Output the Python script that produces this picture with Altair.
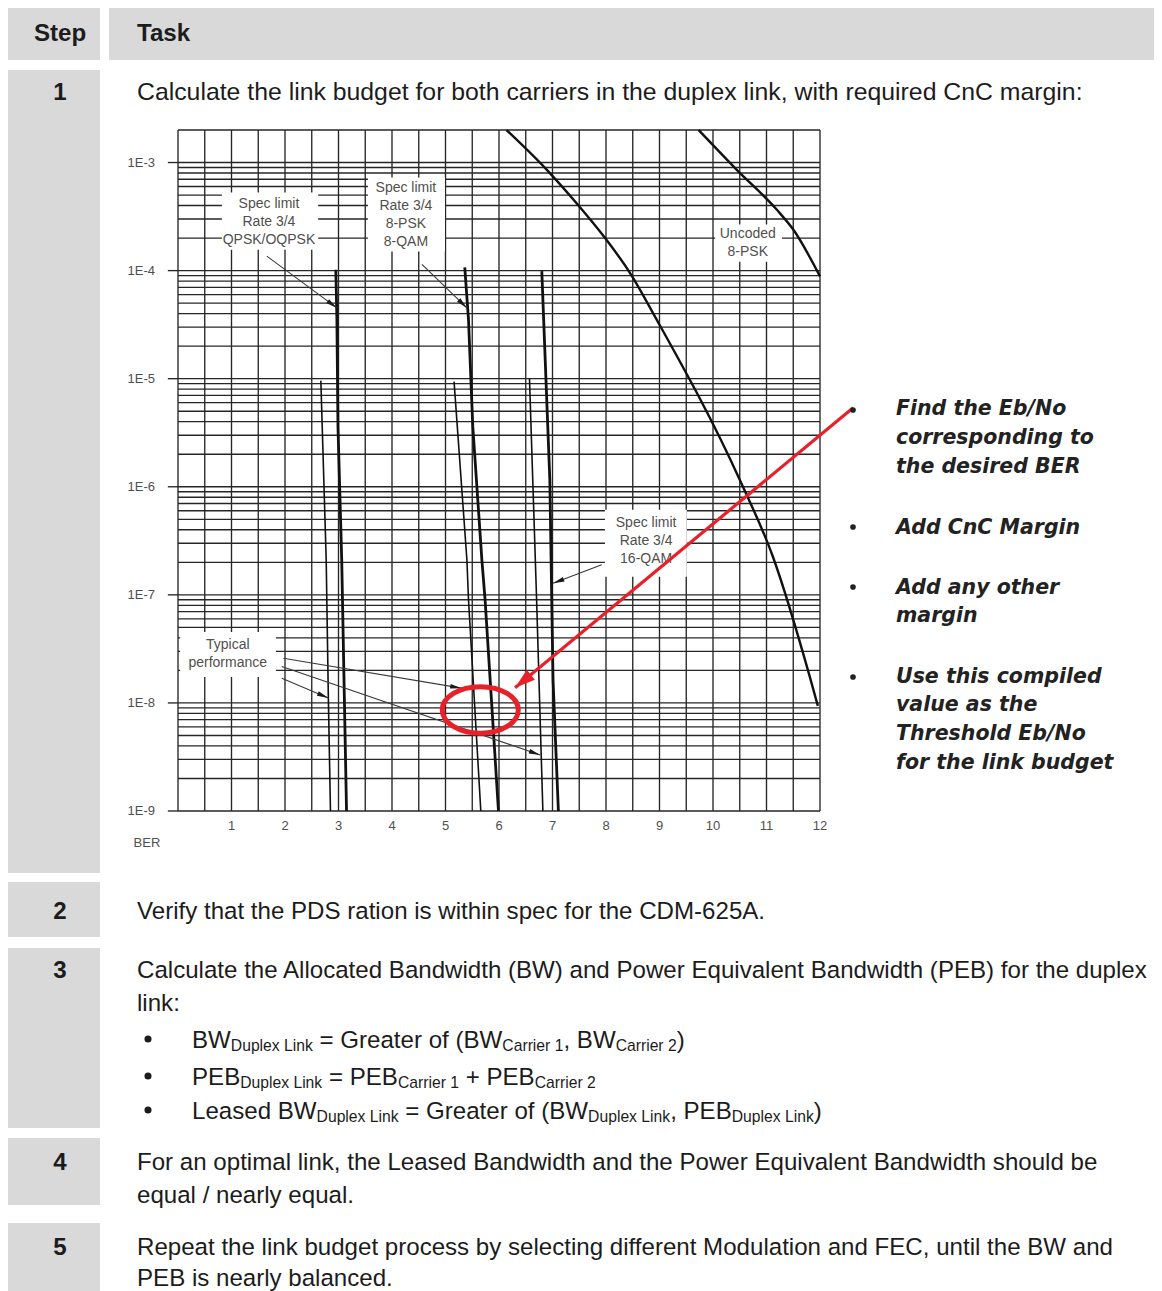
import math
import altair as alt
import pandas as pd

# ------------------------------------------------------------------ table text
header_labels = ["Step", "Task"]
steps = ["1", "2", "3", "4", "5"]
task_lines = [
    "Calculate the link budget for both carriers in the duplex link, with required CnC margin:",
    "Verify that the PDS ration is within spec for the CDM-625A.",
    "Calculate the Allocated Bandwidth (BW) and Power Equivalent Bandwidth (PEB) for the duplex",
    "link:",
    "For an optimal link, the Leased Bandwidth and the Power Equivalent Bandwidth should be",
    "equal / nearly equal.",
    "Repeat the link budget process by selecting different Modulation and FEC, until the BW and",
    "PEB is nearly balanced.",
]
# (text, is_subscript)
formula_lines = [
    [("BW", 0), ("Duplex Link", 1), (" = Greater of (BW", 0), ("Carrier 1", 1), (", BW", 0), ("Carrier 2", 1), (")", 0)],
    [("PEB", 0), ("Duplex Link", 1), (" = PEB", 0), ("Carrier 1", 1), (" + PEB", 0), ("Carrier 2", 1)],
    [("Leased BW", 0), ("Duplex Link", 1), (" = Greater of (BW", 0), ("Duplex Link", 1), (", PEB", 0), ("Duplex Link", 1), (")", 0)],
]
side_notes = [
    ["Find the Eb/No", "corresponding to", "the desired BER"],
    ["Add CnC Margin"],
    ["Add any other", "margin"],
    ["Use this compiled", "value as the", "Threshold Eb/No", "for the link budget"],
]

# ------------------------------------------------------------------ BER chart values
ebno_ticks = [1, 2, 3, 4, 5, 6, 7, 8, 9, 10, 11, 12]
ber_ticks = [1e-3, 1e-4, 1e-5, 1e-6, 1e-7, 1e-8, 1e-9]
ber_tick_labels = ["1E-3", "1E-4", "1E-5", "1E-6", "1E-7", "1E-8", "1E-9"]
ebno_grid = [0, 0.5, 1, 1.5, 2, 2.5, 3, 3.5, 4, 4.5, 5, 5.5, 6, 6.5, 7, 7.5, 8, 8.5,
             9, 9.5, 10, 10.5, 11, 11.5, 12]
ber_grid_mantissas = [1, 2, 3, 4, 5, 6, 7, 8, 9]
ber_grid_decades = [-9, -8, -7, -6, -5, -4]
ber_grid_top = [1e-3, 2e-3]

# curves (Eb/No dB, BER)
unc_a_ebno = [6.14, 6.89, 7.45, 7.95, 8.45, 8.95, 10.50, 11.12, 11.81, 11.96]
unc_a_ber = [2.0e-3, 8.6e-4, 4.2e-4, 2.1e-4, 9.5e-5, 3.5e-5, 1.16e-6, 2.25e-7, 1.74e-8, 9.4e-9]
unc_b_ebno = [9.73, 10.44, 11.19, 11.50, 12.0]
unc_b_ber = [2.0e-3, 8.6e-4, 3.67e-4, 2.40e-4, 8.85e-5]
qpsk_spec_ebno = [2.95, 2.97, 2.99, 3.06, 3.15]
qpsk_spec_ber = [1.02e-4, 3.52e-5, 3.60e-6, 2.11e-7, 1.0e-9]
qpsk_typ_ebno = [2.67, 2.77, 2.81, 2.85]
qpsk_typ_ber = [9.6e-6, 2.11e-7, 1.14e-8, 1.0e-9]
psk8_spec_ebno = [5.36, 5.43, 5.51, 5.68, 5.74, 5.99]
psk8_spec_ber = [1.07e-4, 3.52e-5, 3.60e-6, 2.11e-7, 9.0e-8, 1.0e-9]
psk8_typ_ebno = [5.16, 5.40, 5.43, 5.66]
psk8_typ_ber = [9.4e-6, 2.11e-7, 9.0e-8, 1.0e-9]
qam16_spec_ebno = [6.80, 6.95, 7.01, 7.11]
qam16_spec_ber = [9.9e-5, 1.16e-6, 1.63e-8, 1.0e-9]
qam16_typ_ebno = [6.57, 6.70, 6.82]
qam16_typ_ber = [1.0e-5, 1.0e-7, 1.0e-9]

# annotation labels (Eb/No of the centre, BER of the first text line)
label_texts = ["Spec limit\nRate 3/4\nQPSK/OQPSK", "Spec limit\nRate 3/4\n8-PSK\n8-QAM",
               "Uncoded\n8-PSK", "Spec limit\nRate 3/4\n16-QAM", "Typical\nperformance"]
label_ebno = [1.70, 4.26, 10.65, 8.75, 0.93]
label_ber = [4.17e-4, 5.87e-4, 2.16e-4, 4.64e-7, 3.44e-8]
box_ebno_lo = [0.82, 3.55, 10.04, 7.98, 0.04]
box_ebno_hi = [2.62, 4.99, 11.29, 9.51, 1.83]
box_ber_hi = [5.27e-4, 7.26e-4, 2.67e-4, 6.12e-7, 4.54e-8]
box_ber_lo = [1.56e-4, 1.50e-4, 1.21e-4, 1.47e-7, 1.74e-8]

# pointer arrows (from -> to)
arrow_ebno0 = [1.66, 4.56, 7.92, 1.94, 1.97, 1.94]
arrow_ber0 = [1.36e-4, 1.14e-4, 1.90e-7, 1.69e-8, 2.59e-8, 2.17e-8]
arrow_ebno1 = [2.97, 5.40, 7.01, 2.81, 5.30, 6.77]
arrow_ber1 = [4.52e-5, 4.52e-5, 1.28e-7, 1.11e-8, 1.37e-8, 3.30e-9]

# red highlight
red_arrow_ebno = [12.62, 6.30]
red_arrow_ber = [5.38e-6, 1.38e-8]
ring_ebno = [5.65]
ring_ber = [8.61e-9]

# ------------------------------------------------------------------ layout / style
W, H = 1146, 1283
OFF = 8
GRAY = "#d9d9d9"
INK = "#1c1c1c"
GRID = "#262626"
LABEL = "#505050"
RED = "#e8202a"
BODY_FONT = "Liberation Sans, Arial, Helvetica, sans-serif"
NOTE_FONT = "DejaVu Sans, Verdana, sans-serif"
FS = 24.1
SUB_FS = 15.7
NOTE_FS = 20.5
TASK_FS = [24.8, 24.1, 24.1, 24.1, 24.1, 24.1, 24.1, 24.1]

HEADER_BAND = (4, 60)
STEP_COL = (7, 100)
TASK_COL = (109, 1162)
ROW_BANDS = [(70, 873), (882, 937), (948, 1128), (1138, 1205), (1223, 1300)]
STEP_Y = [91, 910, 969, 1161, 1246]
TASK_Y = [91, 910, 969, 1002, 1161, 1194, 1246, 1277]
TEXT_X = 137
STEP_X = 60
FORMULA_Y = [1039, 1076, 1110]
FORMULA_BULLET_X = 148
FORMULA_X = 192
NOTE_BULLET_X = 853
NOTE_BULLET_Y = [410, 527, 587, 677]
NOTE_X = 896
NOTE_Y = [[408, 437, 466], [527], [587, 615], [676, 704, 733, 762]]

# scales: page (picture pixels) and the BER plot
PX = alt.Scale(domain=[OFF, OFF + W], range=[0, W], nice=False, zero=False)
PY = alt.Scale(domain=[OFF, OFF + H], range=[0, H], nice=False, zero=False)
BX_RANGE = [178 - OFF, 820 - OFF]
BY_RANGE = [811 - OFF, 130 - OFF]
BX = alt.Scale(domain=[0, 12], range=BX_RANGE, nice=False, zero=False)
BY = alt.Scale(type="log", domain=[1e-9, 2e-3], range=BY_RANGE, nice=False)


def px_of(e, b):
    X = BX_RANGE[0] + e / 12 * (BX_RANGE[1] - BX_RANGE[0])
    f = (math.log10(b) + 9) / (math.log10(2e-3) + 9)
    Y = BY_RANGE[0] + f * (BY_RANGE[1] - BY_RANGE[0])
    return X, Y


ARIAL = {' ': 278, '=': 584, '+': 584, '(': 333, ')': 333, ',': 278, '1': 556, '2': 556,
         'B': 667, 'W': 944, 'D': 722, 'u': 556, 'p': 556, 'l': 222, 'e': 556, 'x': 500,
         'L': 556, 'i': 222, 'n': 556, 'k': 500, 'G': 778, 'r': 333, 'a': 556, 't': 278,
         'o': 556, 'f': 278, 'C': 722, 'P': 667, 'E': 667, 's': 500, 'd': 556}


def text_width(s, fs):
    return sum(ARIAL.get(c, 556) for c in s) * fs / 1000.0


def px_enc(xf="x", yf="y"):
    return dict(x=alt.X(f"{xf}:Q", scale=PX, axis=None), y=alt.Y(f"{yf}:Q", scale=PY, axis=None))


def b_enc(xf="x", yf="y"):
    return dict(x=alt.X(f"{xf}:Q", scale=BX, axis=None), y=alt.Y(f"{yf}:Q", scale=BY, axis=None))


def heading(x0, y0, x1, y1):
    X0, Y0 = px_of(x0, y0)
    X1, Y1 = px_of(x1, y1)
    return math.degrees(math.atan2(X1 - X0, -(Y1 - Y0))) % 360


layers = []

# ---- table cells
cells = [(STEP_COL[0], STEP_COL[1], HEADER_BAND[0], HEADER_BAND[1]),
         (TASK_COL[0], TASK_COL[1], HEADER_BAND[0], HEADER_BAND[1])]
cells += [(STEP_COL[0], STEP_COL[1], t, b) for t, b in ROW_BANDS]
cell_df = pd.DataFrame(cells, columns=["x1", "x2", "y1", "y2"])
layers.append(alt.Chart(cell_df).mark_rect(color=GRAY).encode(
    x=alt.X("x1:Q", scale=PX, axis=None), x2="x2:Q",
    y=alt.Y("y1:Q", scale=PY, axis=None), y2="y2:Q"))

cap = 0.358 * FS
# header
layers.append(alt.Chart(pd.DataFrame({"x": [STEP_X], "y": [32 + cap], "t": [header_labels[0]]}))
              .mark_text(font=BODY_FONT, fontSize=FS, fontWeight="bold", color=INK, align="center", baseline="alphabetic")
              .encode(text="t:N", **px_enc()))
layers.append(alt.Chart(pd.DataFrame({"x": [TEXT_X], "y": [32 + cap], "t": [header_labels[1]]}))
              .mark_text(font=BODY_FONT, fontSize=FS, fontWeight="bold", color=INK, align="left", baseline="alphabetic")
              .encode(text="t:N", **px_enc()))
# step numbers
layers.append(alt.Chart(pd.DataFrame({"x": [STEP_X] * len(steps), "y": [v + cap for v in STEP_Y], "t": steps}))
              .mark_text(font=BODY_FONT, fontSize=FS, fontWeight="bold", color=INK, align="center", baseline="alphabetic")
              .encode(text="t:N", **px_enc()))
# task lines
layers.append(alt.Chart(pd.DataFrame({"x": [TEXT_X] * len(task_lines),
                                      "y": [v + 0.358 * f for v, f in zip(TASK_Y, TASK_FS)],
                                      "t": task_lines, "fs": TASK_FS}))
              .mark_text(font=BODY_FONT, color=INK, align="left", baseline="alphabetic")
              .encode(text="t:N", size=alt.Size("fs:Q", scale=None), **px_enc()))
# formula lines with subscripts; leading blanks become an x offset (text is trimmed when drawn)
frows = []
for line, yc in zip(formula_lines, FORMULA_Y):
    xcur = FORMULA_X
    for seg, sub in line:
        fs = SUB_FS if sub else FS
        stripped = seg.lstrip(" ")
        lead = text_width(seg[:len(seg) - len(stripped)], fs)
        base = yc + cap + (3.5 if sub else 0)
        frows.append({"x": xcur + lead, "y": base, "t": stripped, "fs": fs})
        xcur += text_width(seg, fs)
layers.append(alt.Chart(pd.DataFrame(frows))
              .mark_text(font=BODY_FONT, color=INK, align="left", baseline="alphabetic")
              .encode(text="t:N", size=alt.Size("fs:Q", scale=None), **px_enc()))
layers.append(alt.Chart(pd.DataFrame({"x": [FORMULA_BULLET_X] * 3, "y": FORMULA_Y}))
              .mark_point(shape="circle", filled=True, size=50, color=INK, opacity=1)
              .encode(**px_enc()))

# ---- BER grid
vgrid = pd.DataFrame({"x": ebno_grid, "y1": [1e-9] * len(ebno_grid), "y2": [2e-3] * len(ebno_grid)})
layers.append(alt.Chart(vgrid).mark_rule(color=GRID, strokeWidth=1.35).encode(
    x=alt.X("x:Q", scale=BX, axis=None), y=alt.Y("y1:Q", scale=BY, axis=None), y2="y2:Q"))
hvals = [m * 10.0 ** d for d in ber_grid_decades for m in ber_grid_mantissas] + ber_grid_top
hgrid = pd.DataFrame({"y": hvals, "x1": [0] * len(hvals), "x2": [12] * len(hvals)})
layers.append(alt.Chart(hgrid).mark_rule(color=GRID, strokeWidth=1.35).encode(
    x=alt.X("x1:Q", scale=BX, axis=None), x2="x2:Q", y=alt.Y("y:Q", scale=BY, axis=None)))
ticks = pd.DataFrame({"y": ber_ticks, "x1": [-0.19] * len(ber_ticks), "x2": [0] * len(ber_ticks)})
layers.append(alt.Chart(ticks).mark_rule(color=GRID, strokeWidth=1.35).encode(
    x=alt.X("x1:Q", scale=BX, axis=None), x2="x2:Q", y=alt.Y("y:Q", scale=BY, axis=None)))

# ---- curves
def curve_df(name, xs, ys):
    return pd.DataFrame({"name": name, "x": xs, "y": ys, "i": list(range(len(xs)))})

thick_curved = pd.concat([curve_df("Uncoded A", unc_a_ebno, unc_a_ber),
                          curve_df("Uncoded 8-PSK", unc_b_ebno, unc_b_ber)])
thick_spec = pd.concat([curve_df("QPSK spec", qpsk_spec_ebno, qpsk_spec_ber),
                        curve_df("8-PSK spec", psk8_spec_ebno, psk8_spec_ber),
                        curve_df("16-QAM spec", qam16_spec_ebno, qam16_spec_ber)])
thin_typ = pd.concat([curve_df("QPSK typ", qpsk_typ_ebno, qpsk_typ_ber),
                      curve_df("8-PSK typ", psk8_typ_ebno, psk8_typ_ber),
                      curve_df("16-QAM typ", qam16_typ_ebno, qam16_typ_ber)])
layers.append(alt.Chart(thick_curved).mark_line(color="#111111", strokeWidth=2.4, interpolate="monotone")
              .encode(detail="name:N", order="i:Q", **b_enc()))
layers.append(alt.Chart(thick_spec).mark_line(color="#111111", strokeWidth=2.8)
              .encode(detail="name:N", order="i:Q", **b_enc()))
layers.append(alt.Chart(thin_typ).mark_line(color="#111111", strokeWidth=1.6)
              .encode(detail="name:N", order="i:Q", **b_enc()))

# ---- annotation boxes and labels
boxes = pd.DataFrame({"x1": box_ebno_lo, "x2": box_ebno_hi, "y1": box_ber_lo, "y2": box_ber_hi})
layers.append(alt.Chart(boxes).mark_rect(color="white").encode(
    x=alt.X("x1:Q", scale=BX, axis=None), x2="x2:Q", y=alt.Y("y1:Q", scale=BY, axis=None), y2="y2:Q"))
labels = pd.DataFrame({"x": label_ebno, "y": label_ber, "t": label_texts})
layers.append(alt.Chart(labels).mark_text(font=BODY_FONT, fontSize=14, color=LABEL, lineBreak="\n",
                                          lineHeight=18, align="center", baseline="middle")
              .encode(text="t:N", **b_enc()))

# ---- pointer arrows (arrow-head symbol has its tip at the symbol origin)
HEAD = "M 0 0 L 0.42 2 L -0.42 2 Z"
arrows = pd.DataFrame({"x": arrow_ebno0, "y": arrow_ber0, "x2": arrow_ebno1, "y2": arrow_ber1})
layers.append(alt.Chart(arrows).mark_rule(color="#3a3a3a", strokeWidth=1.1).encode(
    x=alt.X("x:Q", scale=BX, axis=None), y=alt.Y("y:Q", scale=BY, axis=None), x2="x2:Q", y2="y2:Q"))
angles = [heading(a, b, c, d) for a, b, c, d in zip(arrow_ebno0, arrow_ber0, arrow_ebno1, arrow_ber1)]
heads = pd.DataFrame({"x": arrow_ebno1, "y": arrow_ber1, "a": angles})
layers.append(alt.Chart(heads).mark_point(shape=HEAD, filled=True, size=130, color="#1a1a1a", opacity=1)
              .encode(angle=alt.Angle("a:Q", scale=None), **b_enc()))

# ---- tick labels
ylab = pd.DataFrame({"x": [-0.43] * len(ber_ticks), "y": ber_ticks, "t": ber_tick_labels})
layers.append(alt.Chart(ylab).mark_text(font=BODY_FONT, fontSize=13, color=LABEL, align="right", baseline="middle")
              .encode(text="t:N", **b_enc()))
xlab = pd.DataFrame({"x": ebno_ticks, "y": [1e-9] * len(ebno_ticks), "t": [str(v) for v in ebno_ticks]})
layers.append(alt.Chart(xlab).mark_text(font=BODY_FONT, fontSize=13, color=LABEL, align="center", baseline="middle", dy=15)
              .encode(text="t:N", **b_enc()))
layers.append(alt.Chart(pd.DataFrame({"x": [-0.58], "y": [1e-9], "t": ["BER"]}))
              .mark_text(font=BODY_FONT, fontSize=13, color=LABEL, align="center", baseline="middle", dy=32)
              .encode(text="t:N", **b_enc()))

# ---- red highlight: ring + arrow
ELLIPSE = ("M -1 0 C -1 -0.3386 -0.5523 -0.613 0 -0.613 C 0.5523 -0.613 1 -0.3386 1 0 "
           "C 1 0.3386 0.5523 0.613 0 0.613 C -0.5523 0.613 -1 0.3386 -1 0 Z")
layers.append(alt.Chart(pd.DataFrame({"x": ring_ebno, "y": ring_ber}))
              .mark_point(shape=ELLIPSE, filled=False, size=5776, color=RED, strokeWidth=5, opacity=1)
              .encode(**b_enc()))
red_df = pd.DataFrame({"x": [red_arrow_ebno[0]], "y": [red_arrow_ber[0]],
                       "x2": [red_arrow_ebno[1]], "y2": [red_arrow_ber[1]]})
layers.append(alt.Chart(red_df).mark_rule(color=RED, strokeWidth=3.2).encode(
    x=alt.X("x:Q", scale=BX, axis=None), y=alt.Y("y:Q", scale=BY, axis=None), x2="x2:Q", y2="y2:Q"))
red_ang = heading(red_arrow_ebno[0], red_arrow_ber[0], red_arrow_ebno[1], red_arrow_ber[1])
RED_HEAD = "M 0 0 L 0.62 2 L -0.62 2 Z"
layers.append(alt.Chart(pd.DataFrame({"x": [red_arrow_ebno[1]], "y": [red_arrow_ber[1]], "a": [red_ang]}))
              .mark_point(shape=RED_HEAD, filled=True, size=420, color=RED, opacity=1)
              .encode(angle=alt.Angle("a:Q", scale=None), **b_enc()))

# ---- side notes
note_rows = []
for lines, ys in zip(side_notes, NOTE_Y):
    for ln, yv in zip(lines, ys):
        note_rows.append({"x": NOTE_X, "y": yv + 0.364 * NOTE_FS, "t": ln})
layers.append(alt.Chart(pd.DataFrame(note_rows))
              .mark_text(font=NOTE_FONT, fontSize=NOTE_FS, fontWeight="bold", fontStyle="italic",
                         color="#222222", align="left", baseline="alphabetic")
              .encode(text="t:N", **px_enc()))
layers.append(alt.Chart(pd.DataFrame({"x": [NOTE_BULLET_X] * 4, "y": NOTE_BULLET_Y}))
              .mark_point(shape="circle", filled=True, size=32, color="#222222", opacity=1)
              .encode(**px_enc()))

chart = (alt.layer(*layers)
         .resolve_scale(x="independent", y="independent")
         .properties(width=W, height=H, padding=0, autosize=alt.AutoSizeParams(type="none"), background="white")
         .configure_view(stroke=None))

chart.save("out.html", embed_options={"renderer": "svg", "actions": False})
